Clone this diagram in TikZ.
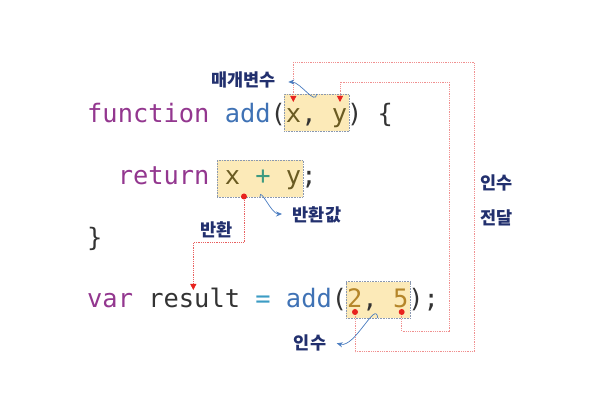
\documentclass[tikz,border=0pt]{standalone}
\usepackage{fontspec}
\setmonofont{DejaVu Sans Mono}
\newfontfamily\kr{Noto Sans CJK KR}
\usetikzlibrary{arrows.meta}
\definecolor{kw}{HTML}{93378F}
\definecolor{fn}{HTML}{3F72B5}
\definecolor{prm}{HTML}{6A5B22}
\definecolor{plus}{HTML}{3E9A80}
\definecolor{num}{HTML}{B5862A}
\definecolor{plain}{HTML}{333333}
\definecolor{eqc}{HTML}{3C9CC4}
\definecolor{hlfill}{HTML}{FCEAB8}
\definecolor{hlborder}{HTML}{8A98B0}
\definecolor{navy}{HTML}{22306E}
\definecolor{dotred}{HTML}{E8231E}
\definecolor{linered}{HTML}{F09090}
\definecolor{retred}{HTML}{E86060}
\definecolor{bluearr}{HTML}{4A7CC0}
\newcommand{\codefont}{\ttfamily\fontsize{25.4}{30}\selectfont}
\tikzset{
  codeline/.style={anchor=base west, inner sep=0, font=\codefont, text=plain},
  hl/.style={rectangle, draw=hlborder, densely dotted, fill=hlfill, line width=0.6, inner sep=0, anchor=north west},
  reddot/.style={circle, fill=dotred, inner sep=0, minimum size=6},
  lbl/.style={text=navy, font=\kr\bfseries\fontsize{17.5}{20}\selectfont, inner sep=0},
  redline/.style={draw=linered, densely dotted, line width=0.8},
  redarrow/.style={redline, -{Triangle[width=6,length=6,color=dotred]}},
  bluearrow/.style={draw=bluearr, line width=0.7, -{Stealth[length=6,width=5]}}
}
\begin{document}
\begin{tikzpicture}[x=1pt,y=-1pt]
\useasboundingbox (0,0) rectangle (608,419);
% highlight boxes
\node[hl, minimum width=64.7, minimum height=37] (params) at (284,94) {};
\node[hl, minimum width=86, minimum height=36.7] (retexpr) at (216.7,160) {};
\node[hl, minimum width=64.3, minimum height=36.7] (args) at (345.7,281.3) {};
% coordinates
\coordinate (dr) at (244,196.5);
\coordinate (d2) at (355,312);
\coordinate (d5) at (401.7,312);
\coordinate (rr) at (193.3,242.7);
\coordinate (tr) at (193.3,290);
\coordinate (r2b) at (474.3,351.7);
\coordinate (r2t) at (474.3,62.7);
\coordinate (t2) at (293.3,102);
\coordinate (r5b) at (449.3,331);
\coordinate (r5t) at (449.3,82.3);
\coordinate (t5) at (340,102);
% red connectors
\draw[redarrow, draw=retred] (dr) |- (rr) -- (tr);
\draw[redarrow] (d2) |- (r2b) -- (r2t) -| (t2);
\draw[redarrow] (d5) |- (r5b) -- (r5t) -| (t5);
% code
\node[codeline] (l1) at (87,122.7) {\textcolor{kw}{function} \textcolor{fn}{add}(\textcolor{prm}{x}, \textcolor{prm}{y}) \{};
\node[codeline] (l2) at (87,185) {\phantom{re}\textcolor{kw}{return} \textcolor{prm}{x} \textcolor{plus}{+} \textcolor{prm}{y};};
\node[codeline] (l3) at (87,246.5) {\}};
\node[codeline] (l4) at (87,308) {\textcolor{kw}{var} result \textcolor{eqc}{=} \textcolor{fn}{add}(\textcolor{num}{2}, \textcolor{num}{5});};
% dots
\node[reddot] (dotr) at (dr) {};
\node[reddot] (dot2) at (d2) {};
\node[reddot] (dot5) at (d5) {};
% labels
\node[lbl] (lparam) at (243.5,79.5) {매개변수};
\node[lbl] (lretval) at (317,215) {반환값};
\node[lbl] (lret) at (216.7,230) {반환};
\node[lbl] (larg) at (310,343) {인수};
\node[lbl] (lpass1) at (496.7,183.3) {인수};
\node[lbl] (lpass2) at (496.7,218.3) {전달};
% blue arrows
\coordinate (bp) at (316.7,94);
\coordinate (bpt) at (288.3,82);
\coordinate (br) at (260,197);
\coordinate (brt) at (282,214);
\coordinate (ba) at (377.7,318);
\coordinate (bat) at (336.7,343.3);
\draw[bluearrow] (bp) to[out=-95,in=0] (bpt);
\draw[bluearrow] (br) to[out=90,in=180] (brt);
\draw[bluearrow] (ba) to[out=95,in=-15] (bat);
\end{tikzpicture}
\end{document}
